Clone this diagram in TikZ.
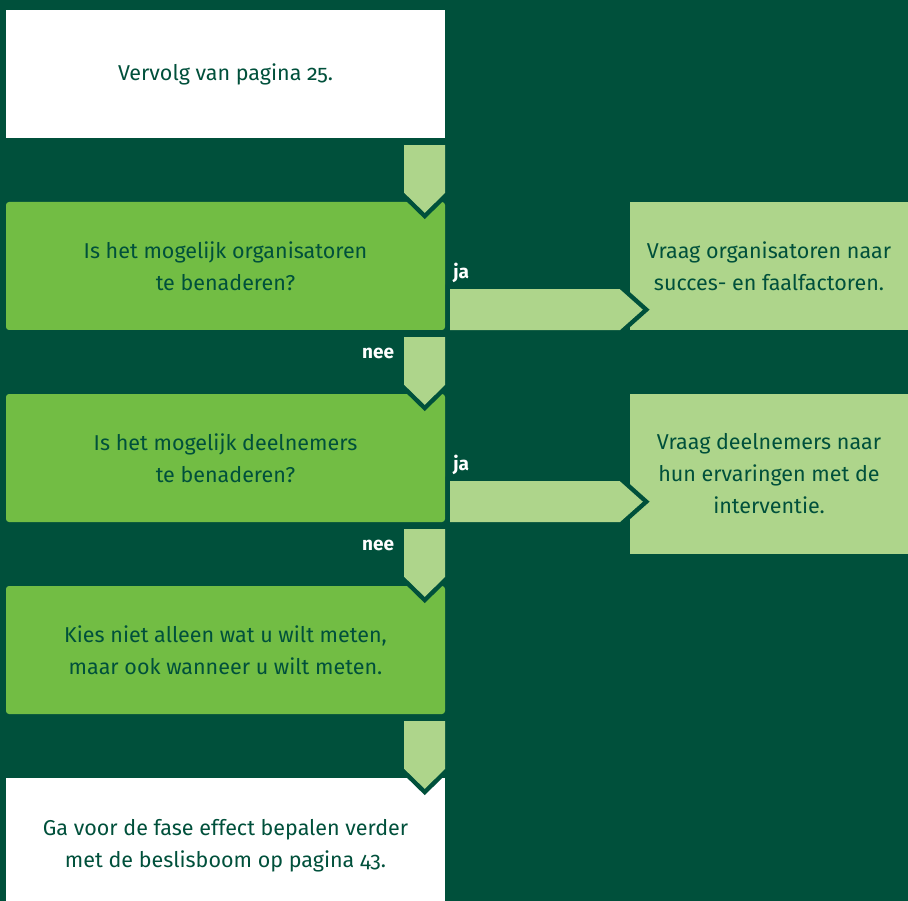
\documentclass[tikz,border=0pt]{standalone}
\usepackage{fontspec}
\setmainfont[Numbers=OldStyle]{Fira Sans}
\usetikzlibrary{calc,positioning}
\definecolor{dark}{HTML}{00503B}
\definecolor{leaf}{HTML}{72BD44}
\definecolor{pale}{HTML}{AED58B}

\begin{document}
\begin{tikzpicture}[x=1pt, y=-1pt,
	every node/.style={font=\fontsize{21.5}{32}\selectfont, text=dark, align=center, inner sep=0pt},
	whitebox/.style={fill=white, minimum width=439pt, minimum height=128pt},
	question/.style={fill=leaf, rounded corners=3pt, minimum width=439pt, minimum height=128pt},
	answer/.style={fill=pale, minimum width=278pt},
	flowarrow/.style={fill=pale, preaction={draw=dark, line width=9pt, line join=miter}},
	jalabel/.style={text=white, font=\fontsize{19}{20}\selectfont\bfseries}
	]
\fill[dark] (0,0) rectangle (908,901);
\useasboundingbox (0,0) rectangle (908,901);
\clip (0,0) rectangle (908,901);

% left column
\node[whitebox] (start) at (225.5,74)  {Vervolg van pagina 25.};
\node[question] (q1)    at (225.5,266) {Is het mogelijk organisatoren\\te benaderen?};
\node[question] (q2)    at (225.5,458) {Is het mogelijk deelnemers\\te benaderen?};
\node[question] (q3)    at (225.5,650) {Kies niet alleen wat u wilt meten,\\maar ook wanneer u wilt meten.};
\node[whitebox, minimum height=136pt] (end) at (225.5,846) {Ga voor de fase effect bepalen verder\\met de beslisboom op pagina 43.};

% right column
\node[answer, minimum height=128pt] (a1) at (769,266) {Vraag organisatoren naar\\succes- en faalfactoren.};
\node[answer, minimum height=160pt] (a2) at (769,474) {Vraag deelnemers naar\\hun ervaringen met de\\interventie.};

% down arrows
\foreach \from/\to in {start/q1, q1/q2, q2/q3, q3/end}
	\path[flowarrow] ($(\from.south east)+(-41,7)$) -- ($(\from.south east)+(0,7)$)
		-- ($(\to.north east)+(0,-9)$) -- ($(\to.north east)+(-20.5,11)$)
		-- ($(\to.north east)+(-41,-9)$) -- cycle;

% right arrows
\foreach \from/\to in {q1/a1, q2/a2}
	\path[flowarrow] ($(\from.south east)+(5,-41)$) -- ($(\to.west |- \from.south)+(-10,-41)$)
		-- ($(\to.west |- \from.south)+(13,-20.5)$) -- ($(\to.west |- \from.south)+(-10,0)$)
		-- ($(\from.south east)+(5,0)$) -- cycle;

% labels
\node[jalabel, anchor=west] (ja1) at ($(q1.east)+(8,7)$) {ja};
\node[jalabel, anchor=west] (ja2) at ($(q2.east)+(8,7)$) {ja};
\node[jalabel] (nee1) at ($(q1.south east)+(-67,23)$) {nee};
\node[jalabel] (nee2) at ($(q2.south east)+(-67,23)$) {nee};
\end{tikzpicture}
\end{document}
